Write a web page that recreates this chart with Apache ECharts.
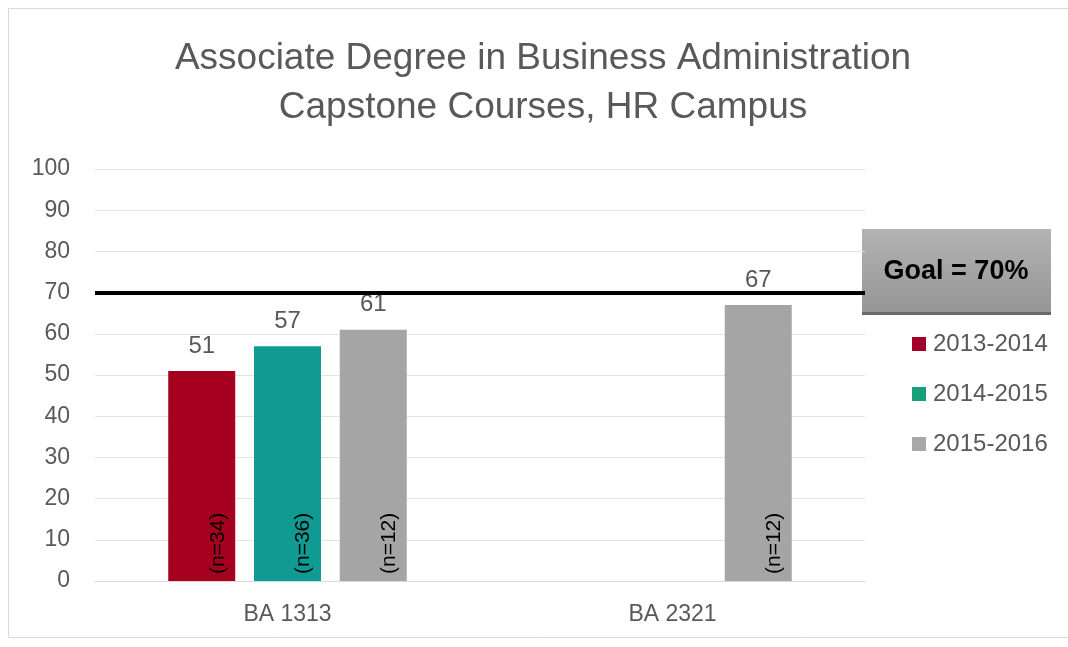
<!DOCTYPE html>
<html>
<head>
<meta charset="utf-8">
<script src="https://cdn.jsdelivr.net/npm/echarts@6/dist/echarts.min.js"></script>
<style>html,body{margin:0;padding:0;background:#fff;}#c{width:1068px;height:647px;}</style>
</head>
<body>
<div id="c"></div>
<script>
const categories = ['BA 1313', 'BA 2321'];
const years = ['2013-2014', '2014-2015', '2015-2016'];
const values1314 = [51, null];
const values1415 = [57, null];
const values1516 = [61, 67];
const nLabels1314 = ['(n=34)', null];
const nLabels1415 = ['(n=36)', null];
const nLabels1516 = ['(n=12)', '(n=12)'];
const goalValue = 70;
const goalText = 'Goal = 70%';
const titleText = 'Associate Degree in Business Administration\nCapstone Courses, HR Campus';
const yMin = 0, yMax = 100, yInterval = 10;

const colors = ['#a6001f', '#0f9b93', '#a5a5a5'];
const legendColors = ['#a2002a', '#17a07a', '#a8a8a8'];
const FONT = 'Liberation Sans';

const seriesValues = [values1314, values1415, values1516];
const seriesN = [nLabels1314, nLabels1415, nLabels1516];

const series = [];
years.forEach((y, i) => {
  const vals = seriesValues[i];
  const ns = seriesN[i];
  series.push({
    name: y,
    type: 'bar',
    stack: 's' + i,
    barWidth: 67,
    barGap: '28%',
    data: vals,
    itemStyle: { color: colors[i] },
    label: {
      show: true,
      position: 'insideBottom',
      rotate: 90,
      align: 'left',
      verticalAlign: 'middle',
      distance: 7,
      offset: [0, 16],
      color: '#000',
      fontSize: 21,
      fontFamily: FONT,
      formatter: p => ns[p.dataIndex] || ''
    }
  });
  series.push({
    name: y + ' value',
    type: 'bar',
    stack: 's' + i,
    barWidth: 67,
    barGap: '28%',
    data: vals.map(v => v == null ? null : 0),
    itemStyle: { color: 'rgba(0,0,0,0)' },
    label: {
      show: true,
      position: 'top',
      distance: 13,
      color: '#595959',
      fontSize: 24,
      fontFamily: FONT,
      formatter: p => vals[p.dataIndex] == null ? '' : String(vals[p.dataIndex])
    }
  });
});
series.push({
  name: 'Goal',
  type: 'line',
  data: [null, null],
  z: 10,
  symbol: 'none',
  markLine: {
    silent: true,
    symbol: 'none',
    z: 10,
    label: { show: false },
    lineStyle: { color: '#000', width: 4, type: 'solid' },
    data: [{ yAxis: goalValue }]
  }
});

const chart = echarts.init(document.getElementById('c'));
chart.setOption({
  animation: false,
  backgroundColor: '#fff',
  legend: {
    data: years.map((y, i) => ({ name: y, itemStyle: { color: legendColors[i] } })),
    orient: 'vertical',
    left: 912,
    top: 332,
    padding: 0,
    itemWidth: 14,
    itemHeight: 14,
    itemGap: 26,
    icon: 'rect',
    textStyle: { fontFamily: FONT, fontSize: 24, color: '#595959', padding: [0, 0, 0, 2] }
  },
  grid: { left: 95, right: 203, top: 169, bottom: 66, containLabel: false },
  xAxis: {
    type: 'category',
    data: categories,
    axisLine: { show: true, lineStyle: { color: '#d9d9d9', width: 1 } },
    axisTick: { show: false },
    axisLabel: { fontFamily: FONT, fontSize: 23, color: '#595959', margin: 22 }
  },
  yAxis: {
    type: 'value',
    min: yMin,
    max: yMax,
    interval: yInterval,
    axisLine: { show: false },
    axisTick: { show: false },
    axisLabel: { fontFamily: FONT, fontSize: 23, color: '#595959', margin: 25 },
    splitLine: { lineStyle: { color: '#e3e3e3', width: 1 } }
  },
  series: series,
  graphic: [
    {
      type: 'rect',
      z: -10,
      shape: { x: 8.5, y: 8.5, width: 1080, height: 629 },
      style: { fill: 'none', stroke: '#d9d9d9', lineWidth: 1 }
    },
    {
      type: 'text',
      z: 50,
      style: {
        text: titleText,
        x: 543, y: 83,
        align: 'center', verticalAlign: 'middle',
        fontFamily: FONT, fontSize: 37, lineHeight: 49, fill: '#595959'
      }
    },
    {
      type: 'group',
      z: 100,
      children: [
        {
          type: 'rect',
          shape: { x: 862, y: 229, width: 189, height: 86 },
          style: {
            fill: new echarts.graphic.LinearGradient(0, 0, 0, 1, [
              { offset: 0, color: '#b3b3b3' },
              { offset: 1, color: '#959595' }
            ])
          }
        },
        {
          type: 'rect',
          shape: { x: 862, y: 312, width: 189, height: 3 },
          style: { fill: '#6a6a6a' }
        },
        {
          type: 'text',
          style: {
            text: goalText,
            x: 956, y: 272,
            align: 'center', verticalAlign: 'middle',
            fontFamily: FONT, fontSize: 27, fontWeight: 'bold', fill: '#000'
          }
        }
      ]
    }
  ]
});
</script>
</body>
</html>
